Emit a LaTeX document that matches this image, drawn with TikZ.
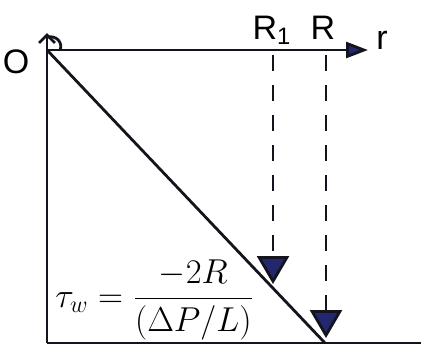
\documentclass[tikz,border=0pt]{standalone}
\usepackage{fontspec}
\setmainfont{Liberation Sans}
\usetikzlibrary{arrows.meta, positioning}
\definecolor{myink}{RGB}{20,20,30}
\definecolor{mynavy}{RGB}{35,40,110}

\begin{document}
\begin{tikzpicture}[x=0.5pt,y=-0.5pt,line width=1.4pt,draw=myink,
          lbl/.style={font=\fontsize{17}{20}\selectfont,inner sep=1pt},
          guide/.style={dash pattern=on 8pt off 7pt},
          level/.style={-{Triangle[length=14pt,width=16pt,fill=mynavy]}}]
        \useasboundingbox (0,0) rectangle (421,345);
        % axes
        \coordinate (O) at (47,50);
        \coordinate (top) at (47,33);
        \coordinate (base) at (47,343);
        \coordinate (rend) at (368,50);
        \coordinate (floor) at (421,343);
        \coordinate (wall) at (325,343);
        \draw[-{Straight Barb[length=4pt,width=8pt]}] (base) -- (top);
        \draw (47,37) .. controls (57,35) and (63,43) .. (60,50);
        \draw[-{Triangle[length=11pt,width=8pt,fill=mynavy]}] (O) -- (rend);
        \draw (base) -- (floor);
        \draw (O) -- (wall);
        % labels
        \node[lbl](o) at (16,62){O};
        \node[lbl](r) at (382,40){r};
        \node[lbl](r1) at (272,30){R\textsubscript{1}};
        \node[lbl](rr) at (323,28){R};
        % level marks
        \coordinate (a1) at (273,55);
        \coordinate (b1) at (273,284);
        \coordinate (a2) at (326,55);
        \coordinate (b2) at (326,338);
        \draw[guide,level] (a1) -- (b1);
        \draw[guide,level] (a2) -- (b2);
        % wall stress
        \node[font=\fontsize{18}{20}\selectfont,anchor=south west,inner sep=0pt](tau)
          at (54,341){$\displaystyle \tau_w = \frac{-2R}{(\Delta P/L)}$};
      \end{tikzpicture}
\end{document}
